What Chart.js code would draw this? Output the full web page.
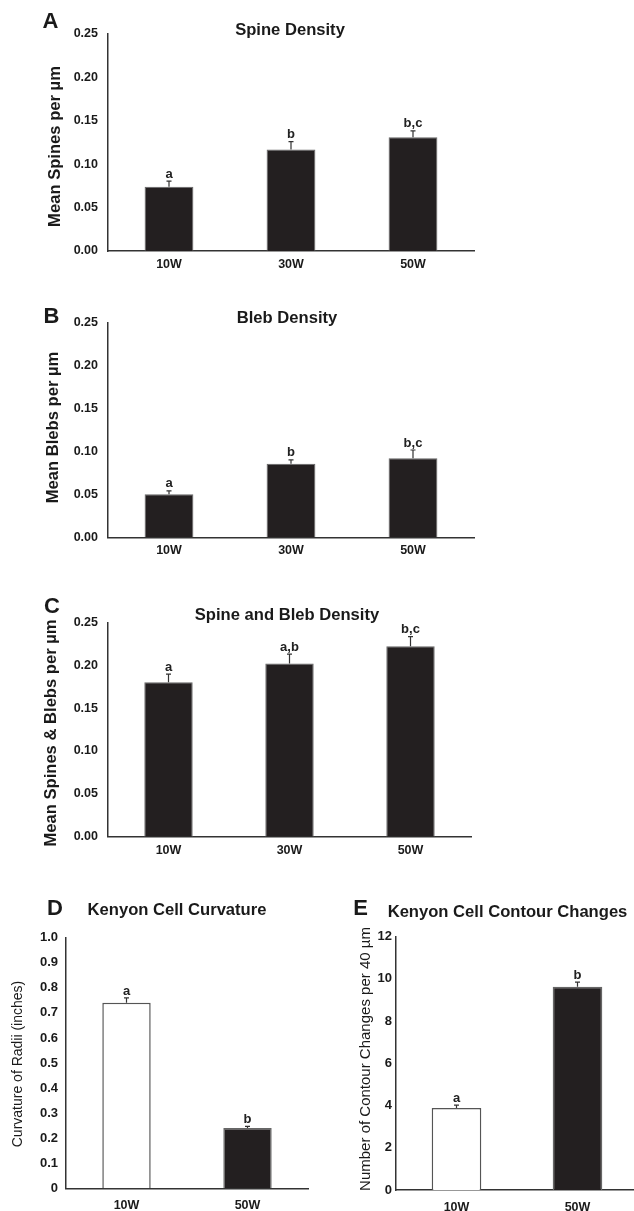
<!DOCTYPE html>
<html>
<head>
<meta charset="utf-8">
<script src="https://cdn.jsdelivr.net/npm/chart.js@4.4.1/dist/chart.umd.min.js"></script>
<style>
  html, body { margin: 0; padding: 0; background: #fff; width: 634px; height: 1211px; overflow: hidden; }
  canvas { position: absolute; left: 0; top: 0; }
</style>
</head>
<body>
<canvas id="cA" width="640" height="1211"></canvas>
<canvas id="cB" width="640" height="1211"></canvas>
<canvas id="cC" width="640" height="1211"></canvas>
<canvas id="cD" width="640" height="1211"></canvas>
<canvas id="cE" width="640" height="1211"></canvas>
<script>
// ---------- DATA ----------
const groups3 = ['10W', '30W', '50W'];
const groups2 = ['10W', '50W'];

const spineMeans = [0.074, 0.117, 0.131];
const spineErrors = [0.0066, 0.009, 0.0075];
const spineLetters = ['a', 'b', 'b,c'];

const blebMeans = [0.050, 0.0856, 0.092];
const blebErrors = [0.004, 0.0045, 0.0095];
const blebLetters = ['a', 'b', 'b,c'];

const bothMeans = [0.180, 0.202, 0.222];
const bothErrors = [0.0095, 0.011, 0.0112];
const bothLetters = ['a', 'a,b', 'b,c'];

const curvMeans = [0.740, 0.2405];
const curvErrors = [0.020, 0.007];
const curvLetters = ['a', 'b'];

const contourMeans = [3.88, 9.63];
const contourErrors = [0.14, 0.22];
const contourLetters = ['a', 'b'];

const densityTicks = [0, 0.05, 0.10, 0.15, 0.20, 0.25];
const curvTicks = [0, 0.1, 0.2, 0.3, 0.4, 0.5, 0.6, 0.7, 0.8, 0.9, 1.0];
const contourTicks = [0, 2, 4, 6, 8, 10, 12];

// ---------- STYLE / LAYOUT ----------
const FONT = '"Liberation Sans", Arial, Helvetica, sans-serif';
const DARK = '#231f20';
const W = 640, H = 1211;

const annotPlugin = {
  id: 'annot',
  afterDatasetsDraw(chart) {
    const o = chart.options.plugins.annot;
    const ctx = chart.ctx;
    const ys = chart.scales.y;
    const meta = chart.getDatasetMeta(0);
    ctx.save();
    meta.data.forEach((bar, i) => {
      const v = o.means[i], e = o.errors[i];
      const yTop = ys.getPixelForValue(v + e);
      const yBar = ys.getPixelForValue(v);
      const x = bar.x;
      ctx.strokeStyle = '#333';
      ctx.lineWidth = 1.2;
      ctx.beginPath();
      ctx.moveTo(x, yBar);
      ctx.lineTo(x, yTop);
      ctx.moveTo(x - o.cap, yTop);
      ctx.lineTo(x + o.cap, yTop);
      ctx.stroke();
      ctx.fillStyle = '#222';
      ctx.font = o.sigFont;
      ctx.textAlign = 'center';
      ctx.textBaseline = 'alphabetic';
      ctx.fillText(o.letters[i], x, yTop - o.sigGap);
    });
    o.texts.forEach(t => {
      ctx.save();
      ctx.fillStyle = t.color || '#1a1a1a';
      ctx.font = t.font;
      ctx.textAlign = t.align || 'center';
      ctx.textBaseline = t.baseline || 'alphabetic';
      ctx.translate(t.x, t.y);
      if (t.rot) ctx.rotate(t.rot);
      ctx.fillText(t.text, 0, 0);
      ctx.restore();
    });
    ctx.restore();
  }
};

function panel(id, p) {
  const yW = p.yW, xH = 30;
  return new Chart(document.getElementById(id), {
    type: 'bar',
    data: {
      labels: p.labels,
      datasets: [{
        data: p.means,
        backgroundColor: p.bg,
        borderColor: p.border,
        borderWidth: p.borderWidth,
        borderSkipped: 'start',
        barPercentage: p.barPct,
        categoryPercentage: 1.0
      }]
    },
    options: {
      responsive: false,
      animation: false,
      devicePixelRatio: 1,
      events: [],
      layout: {
        padding: {
          left: p.area.left - yW,
          right: W - p.area.right,
          top: p.area.top,
          bottom: H - p.area.bottom - xH
        }
      },
      plugins: {
        legend: { display: false },
        tooltip: { enabled: false },
        title: { display: false },
        annot: {
          means: p.means, errors: p.errors, letters: p.letters,
          cap: p.cap, sigFont: p.sigFont, sigGap: p.sigGap, texts: p.texts
        }
      },
      scales: {
        x: {
          type: 'category',
          offset: true,
          grid: { display: false, drawTicks: false },
          border: { display: true, color: '#333', width: 1.5 },
          ticks: { color: '#1a1a1a', font: p.xFont, padding: p.xPad, maxRotation: 0 },
          afterFit(s) { s.height = xH; }
        },
        y: {
          min: 0,
          max: p.ticks[p.ticks.length - 1],
          afterBuildTicks(s) { s.ticks = p.ticks.map(v => ({ value: v })); },
          grid: { display: false, drawTicks: false },
          border: { display: true, color: '#333', width: 1.5 },
          ticks: { color: '#1a1a1a', font: p.yFont, padding: p.yPad, callback: p.fmt },
          afterFit(s) { s.width = yW; }
        }
      }
    },
    plugins: [annotPlugin]
  });
}

const fmt2 = v => Number(v).toFixed(2);
const fmt1 = v => (v === 0 ? '0' : Number(v).toFixed(1));
const fmt0 = v => String(v);

const tickFontABC = { family: FONT, size: 12.5, weight: 'bold' };
const xFontABC = { family: FONT, size: 12.5, weight: 'bold' };
const titleFont = 'bold 16.6px ' + FONT;
const letterFont = 'bold 22px ' + FONT;
const sigFontABC = 'bold 13px ' + FONT;
const sigFontDE = 'bold 13px ' + FONT;
const ROT = -Math.PI / 2;

panel('cA', {
  labels: groups3, means: spineMeans, errors: spineErrors, letters: spineLetters,
  ticks: densityTicks, fmt: fmt2,
  area: { left: 108, right: 474, top: 34, bottom: 251 }, yW: 60,
  bg: DARK, border: '#666', borderWidth: 1, barPct: 0.4,
  yFont: tickFontABC, yPad: 10, xFont: xFontABC, xPad: 6,
  cap: 2.5, sigFont: sigFontABC, sigGap: 3.5,
  texts: [
    { text: 'A', x: 50.5, y: 27.5, font: letterFont },
    { text: 'Spine Density', x: 290, y: 35, font: titleFont },
    { text: 'Mean Spines per µm', x: 55, y: 146.5, font: titleFont, rot: ROT, baseline: 'middle' }
  ]
});

panel('cB', {
  labels: groups3, means: blebMeans, errors: blebErrors, letters: blebLetters,
  ticks: densityTicks, fmt: fmt2,
  area: { left: 108, right: 474, top: 322.3, bottom: 537.3 }, yW: 60,
  bg: DARK, border: '#666', borderWidth: 1, barPct: 0.4,
  yFont: tickFontABC, yPad: 10, xFont: xFontABC, xPad: 6,
  cap: 2.5, sigFont: sigFontABC, sigGap: 3.5,
  texts: [
    { text: 'B', x: 51.5, y: 322.5, font: letterFont },
    { text: 'Bleb Density', x: 287, y: 323, font: titleFont },
    { text: 'Mean Blebs per µm', x: 53, y: 427.5, font: titleFont, rot: ROT, baseline: 'middle' }
  ]
});

panel('cC', {
  labels: groups3, means: bothMeans, errors: bothErrors, letters: bothLetters,
  ticks: densityTicks, fmt: fmt2,
  area: { left: 108, right: 471, top: 622.3, bottom: 836.7 }, yW: 60,
  bg: DARK, border: '#666', borderWidth: 1, barPct: 0.4,
  yFont: tickFontABC, yPad: 10, xFont: xFontABC, xPad: 6,
  cap: 2.5, sigFont: sigFontABC, sigGap: 3.5,
  texts: [
    { text: 'C', x: 52, y: 612.5, font: letterFont },
    { text: 'Spine and Bleb Density', x: 287, y: 620, font: titleFont },
    { text: 'Mean Spines & Blebs per µm', x: 51, y: 733, font: titleFont, rot: ROT, baseline: 'middle' }
  ]
});

panel('cD', {
  labels: groups2, means: curvMeans, errors: curvErrors, letters: curvLetters,
  ticks: curvTicks, fmt: fmt1,
  area: { left: 66, right: 308, top: 937.7, bottom: 1188.3 }, yW: 60,
  bg: ['#ffffff', DARK], border: ['#555', '#666'], borderWidth: 1.5, barPct: 0.4,
  yFont: { family: FONT, size: 13, weight: 'bold' }, yPad: 8,
  xFont: { family: FONT, size: 12.5, weight: 'bold' }, xPad: 10,
  cap: 2.5, sigFont: sigFontDE, sigGap: 3,
  texts: [
    { text: 'D', x: 55, y: 915, font: letterFont },
    { text: 'Kenyon Cell Curvature', x: 177, y: 915, font: titleFont },
    { text: 'Curvature of Radii (inches)', x: 18, y: 1064, font: '14px ' + FONT, rot: ROT, baseline: 'middle' }
  ]
});

panel('cE', {
  labels: groups2, means: contourMeans, errors: contourErrors, letters: contourLetters,
  ticks: contourTicks, fmt: fmt0,
  area: { left: 396, right: 638, top: 936.7, bottom: 1190 }, yW: 40,
  bg: ['#ffffff', DARK], border: ['#555', '#666'], borderWidth: 1.5, barPct: 0.41,
  yFont: { family: FONT, size: 13, weight: 'bold' }, yPad: 4,
  xFont: { family: FONT, size: 12.5, weight: 'bold' }, xPad: 10,
  cap: 2.5, sigFont: sigFontDE, sigGap: 3,
  texts: [
    { text: 'E', x: 360.5, y: 915, font: letterFont },
    { text: 'Kenyon Cell Contour Changes', x: 507.5, y: 917, font: titleFont },
    { text: 'Number of Contour Changes per 40 µm', x: 366, y: 1059, font: '15px ' + FONT, rot: ROT, baseline: 'middle' }
  ]
});
</script>
</body>
</html>
